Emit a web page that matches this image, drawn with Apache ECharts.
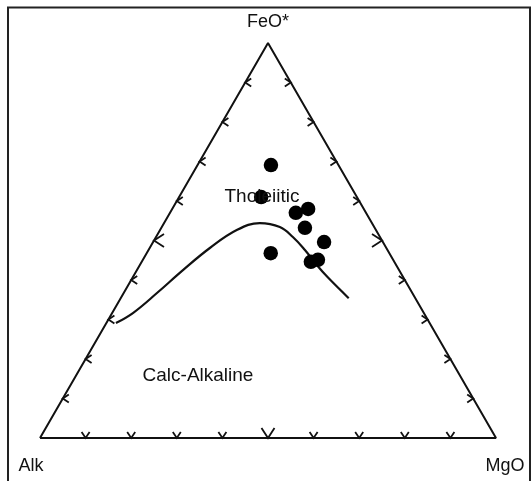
<!DOCTYPE html>
<html>
<head>
<meta charset="utf-8">
<script src="https://cdn.jsdelivr.net/npm/echarts@6/dist/echarts.min.js"></script>
<style>
html,body{margin:0;padding:0;background:#fff;}
#chart{width:532px;height:481px;}
</style>
</head>
<body>
<div id="chart"></div>
<script>
// Apex labels
const apexLabels = ['Alk', 'FeO*', 'MgO'];
// Field labels
const fieldLabels = ['Tholeiitic', 'Calc-Alkaline'];
// Sample compositions (percent)
const sampleAlk = [14.8, 21.0, 15.4, 12.2, 15.3, 12.9, 26.0, 18.3, 16.5];
const sampleFeO = [69.1, 61.0, 57.0, 58.0, 53.2, 49.6, 46.8, 44.6, 45.1];
const sampleMgO = [16.1, 18.0, 27.6, 29.8, 31.5, 37.5, 27.2, 37.1, 38.4];
// Tholeiitic / calc-alkaline dividing curve (percent)
const curveAlk = [68.8, 63.7, 56.0, 47.4, 38.7, 30.4, 24.6, 20.7, 19.1, 18.1, 17.4, 16.6, 14.6];
const curveFeO = [29.1, 31.7, 36.7, 42.5, 48.1, 52.7, 54.4, 53.4, 50.9, 47.6, 43.8, 40.8, 35.4];
const curveMgO = [2.1, 4.6, 7.3, 10.1, 13.2, 16.9, 21.0, 25.9, 30.0, 34.3, 38.8, 42.6, 50.0];
// Tick positions along each side (percent)
const tickPercents = [10, 20, 30, 40, 50, 60, 70, 80, 90];

const H = Math.sqrt(3) / 2;
function toXY(a, f, m) {
  const s = a + f + m;
  const F = f / s, M = m / s;
  return [M + F / 2, F * H];
}

const samplePts = sampleAlk.map((a, i) => toXY(a, sampleFeO[i], sampleMgO[i]));
const curvePts = curveAlk.map((a, i) => toXY(a, curveFeO[i], curveMgO[i]));
const triPts = [toXY(100, 0, 0), toXY(0, 0, 100), toXY(0, 100, 0), toXY(100, 0, 0)];

// ticks: [x, y, side(0 bottom,1 left,2 right), big]
const tickData = [];
tickPercents.forEach(p => {
  const big = p === 50 ? 1 : 0;
  const b = toXY(100 - p, 0, p); tickData.push([b[0], b[1], 0, big]);
  const l = toXY(100 - p, p, 0); tickData.push([l[0], l[1], 1, big]);
  const r = toXY(0, p, 100 - p); tickData.push([r[0], r[1], 2, big]);
});

const chart = echarts.init(document.getElementById('chart'));
const FONT = '"Liberation Sans", Arial, sans-serif';
chart.setOption({
  animation: false,
  grid: {left: 40, right: 36, top: 43, bottom: 43},
  xAxis: {type: 'value', min: 0, max: 1, show: false},
  yAxis: {type: 'value', min: 0, max: H, show: false},
  graphic: [
    {type: 'rect', shape: {x: 8, y: 7.5, width: 522, height: 490},
     style: {fill: 'none', stroke: '#222', lineWidth: 2}},
    {type: 'text', x: 268, y: 22, style: {text: apexLabels[1], font: '18px ' + FONT, fill: '#111', textAlign: 'center', textVerticalAlign: 'middle'}},
    {type: 'text', x: 31, y: 466, style: {text: apexLabels[0], font: '18px ' + FONT, fill: '#111', textAlign: 'center', textVerticalAlign: 'middle'}},
    {type: 'text', x: 505, y: 466, style: {text: apexLabels[2], font: '18px ' + FONT, fill: '#111', textAlign: 'center', textVerticalAlign: 'middle'}},
    {type: 'text', x: 262, y: 197, z: 10, style: {text: fieldLabels[0], font: '19px ' + FONT, fill: '#111', textAlign: 'center', textVerticalAlign: 'middle'}},
    {type: 'text', x: 198, y: 376, style: {text: fieldLabels[1], font: '19px ' + FONT, fill: '#111', textAlign: 'center', textVerticalAlign: 'middle'}}
  ],
  series: [
    {type: 'line', data: triPts, symbol: 'none', lineStyle: {color: '#111', width: 2}, silent: true},
    {type: 'line', data: curvePts, smooth: 0.4, symbol: 'none', lineStyle: {color: '#111', width: 2.2}, silent: true},
    {type: 'custom', clip: false, data: tickData,
     renderItem: function (params, api) {
       const p = api.coord([api.value(0), api.value(1)]);
       const side = api.value(2), big = api.value(3);
       const s = big ? 6.5 : 4, h = big ? 10 : 6;
       let pts;
       if (side === 0) pts = [[p[0] - s, p[1] - h], [p[0], p[1]], [p[0] + s, p[1] - h]];
       else if (side === 1) pts = [[p[0] + h, p[1] - s], [p[0], p[1]], [p[0] + h, p[1] + s]];
       else pts = [[p[0] - h, p[1] - s], [p[0], p[1]], [p[0] - h, p[1] + s]];
       return {type: 'polyline', shape: {points: pts}, style: {stroke: '#111', lineWidth: 1.8, fill: null}};
     }},
    {type: 'scatter', data: samplePts, symbol: 'circle', symbolSize: 14.5, itemStyle: {color: '#000', opacity: 1}, z: 5}
  ]
});
</script>
</body>
</html>
